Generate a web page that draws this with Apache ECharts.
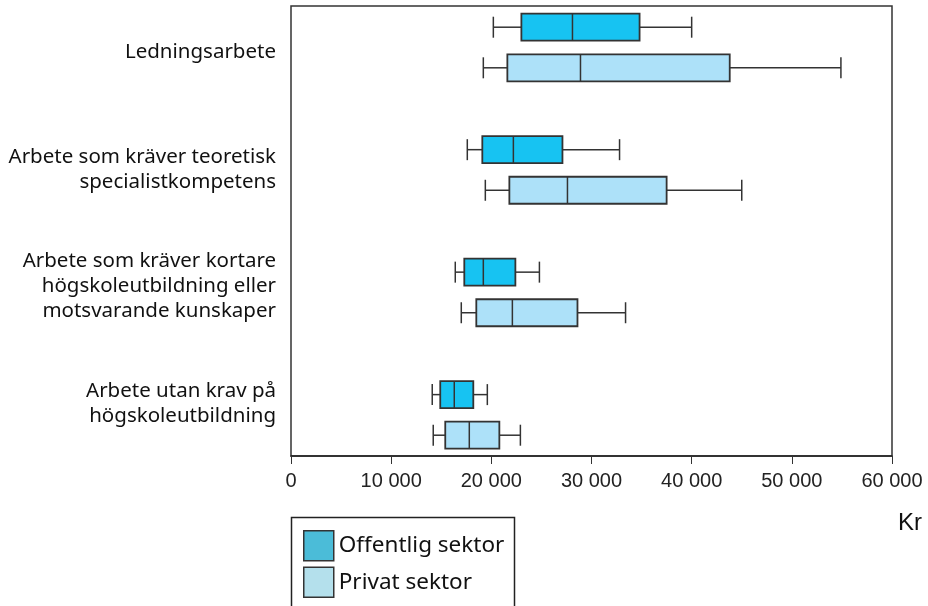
<!DOCTYPE html>
<html>
<head>
<meta charset="utf-8">
<script src="https://cdn.jsdelivr.net/npm/echarts@6/dist/echarts.min.js"></script>
<style>
html,body{margin:0;padding:0;background:#fff;}
#chart{width:928px;height:606px;}
</style>
</head>
<body>
<div id="chart"></div>
<script>
// ---- Data ----
const categories = [
  'Ledningsarbete',
  'Arbete som kräver teoretisk\nspecialistkompetens',
  'Arbete som kräver kortare\nhögskoleutbildning eller\nmotsvarande kunskaper',
  'Arbete utan krav på\nhögskoleutbildning'
];
const seriesNames = ['Offentlig sektor', 'Privat sektor'];
// [min, Q1, median, Q3, max] in Kr
const offentlig = [
  [20200, 23000, 28100, 34800, 40000],
  [17600, 19100, 22200, 27100, 32800],
  [16400, 17300, 19200, 22400, 24800],
  [14100, 14900, 16300, 18200, 19600]
];
const privat = [
  [19200, 21600, 28900, 43800, 54900],
  [19400, 21800, 27600, 37500, 45000],
  [17000, 18500, 22100, 28600, 33400],
  [14200, 15400, 17800, 20800, 22900]
];
const xTickLabels = ['0', '10 000', '20 000', '30 000', '40 000', '50 000', '60 000'];
const unitLabel = 'Kr';

// ---- Chart ----
const chart = echarts.init(document.getElementById('chart'), null, {renderer: 'canvas'});

function makeRender(offset, fill) {
  return function (params, api) {
    const ci = api.value(0);
    const yc = api.coord([0, ci])[1] + offset;
    const x = [1, 2, 3, 4, 5].map(function (d) { return api.coord([api.value(d), ci])[0]; });
    const hb = 13.5, hc = 10.5;
    const ls = {stroke: '#333', lineWidth: 1.5};
    return {
      type: 'group',
      children: [
        {type: 'line', shape: {x1: x[0], y1: yc, x2: x[1], y2: yc}, style: ls},
        {type: 'line', shape: {x1: x[3], y1: yc, x2: x[4], y2: yc}, style: ls},
        {type: 'line', shape: {x1: x[0], y1: yc - hc, x2: x[0], y2: yc + hc}, style: ls},
        {type: 'line', shape: {x1: x[4], y1: yc - hc, x2: x[4], y2: yc + hc}, style: ls},
        {type: 'rect', shape: {x: x[1], y: yc - hb, width: x[3] - x[1], height: 2 * hb},
          style: {fill: fill, stroke: '#333', lineWidth: 1.8}},
        {type: 'line', shape: {x1: x[2], y1: yc - hb, x2: x[2], y2: yc + hb}, style: ls}
      ]
    };
  };
}

const option = {
  backgroundColor: '#ffffff',
  animation: false,
  grid: {
    left: 291, right: 36, top: 6, bottom: 150,
    show: true, borderColor: '#333', borderWidth: 1.5
  },
  xAxis: {
    type: 'value', min: 0, max: 60000, interval: 10000,
    splitLine: {show: false},
    axisLine: {show: true, onZero: false, lineStyle: {color: '#222', width: 1.5}},
    axisTick: {show: true, inside: false, length: 8, lineStyle: {color: '#333', width: 1}},
    axisLabel: {
      margin: 15, color: '#222', fontFamily: 'Liberation Sans', fontSize: 20,
      formatter: function (v) { return xTickLabels[Math.round(v / 10000)]; }
    }
  },
  yAxis: [
    {
      type: 'value', inverse: true, min: -0.3389, max: 3.3355,
      position: 'right', show: false
    },
    {
      type: 'value', inverse: true, min: -0.3926, max: 3.448,
      position: 'left',
      axisLine: {show: false}, axisTick: {show: false}, splitLine: {show: false},
      axisLabel: {
        customValues: [0, 1, 2, 3],
        margin: 15, align: 'right', color: '#111',
        fontFamily: 'Noto Sans', fontSize: 20.5, lineHeight: 25,
        formatter: function (v) { return categories[Math.round(v)]; }
      }
    }
  ],
  legend: {
    orient: 'vertical', left: 303, top: 530,
    padding: 0, itemWidth: 30, itemHeight: 30, itemGap: 5,
    icon: 'rect',
    textStyle: {fontFamily: 'Noto Sans', fontSize: 22.5, color: '#111'},
    data: [
      {name: seriesNames[0], itemStyle: {color: '#4BBCD8', borderColor: '#333', borderWidth: 1.5}},
      {name: seriesNames[1], itemStyle: {color: '#B4E0EC', borderColor: '#333', borderWidth: 1.5}}
    ]
  },
  graphic: [
    {type: 'rect', shape: {x: 291.5, y: 517.5, width: 223, height: 120},
      style: {fill: 'none', stroke: '#222', lineWidth: 1.5}, silent: true},
    {type: 'text', left: 898, top: 511,
      style: {text: unitLabel, fontFamily: 'Liberation Sans', fontSize: 24, fill: '#111'}}
  ],
  series: [
    {
      name: seriesNames[0], type: 'custom', xAxisIndex: 0, yAxisIndex: 0,
      itemStyle: {color: '#17C3F2'},
      encode: {x: [1, 2, 3, 4, 5], y: 0},
      renderItem: makeRender(-20.3, '#17C3F2'),
      data: offentlig.map(function (r, i) { return [i].concat(r); })
    },
    {
      name: seriesNames[1], type: 'custom', xAxisIndex: 0, yAxisIndex: 0,
      itemStyle: {color: '#ADE1F9'},
      encode: {x: [1, 2, 3, 4, 5], y: 0},
      renderItem: makeRender(20.3, '#ADE1F9'),
      data: privat.map(function (r, i) { return [i].concat(r); })
    }
  ]
};
chart.setOption(option);
</script>
</body>
</html>
